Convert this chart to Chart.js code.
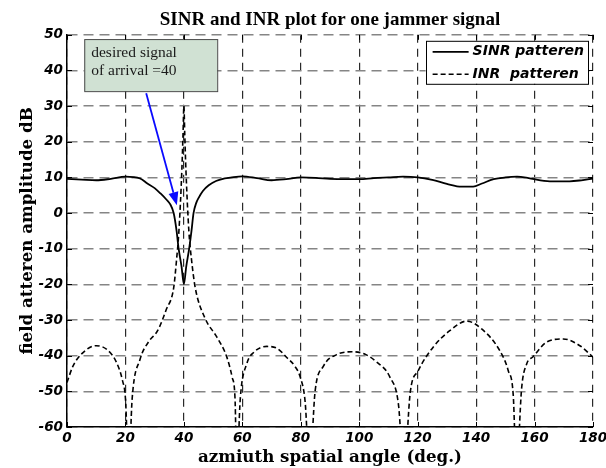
<!DOCTYPE html>
<html><head><meta charset="utf-8">
<script src="https://cdn.jsdelivr.net/npm/chart.js@4/dist/chart.umd.min.js"></script>
<style>html,body{margin:0;padding:0;background:#fff}#wrap{width:606px;height:468px}</style>
</head><body><div id="wrap"><canvas id="c" width="606" height="468"></canvas></div>
<script>
const chartTitle = 'SINR and INR plot for one jammer signal';
const xAxisTitle = 'azmiuth spatial angle (deg.)';
const yAxisTitle = 'field atteren amplitude dB';
const seriesNames = ['SINR patteren', 'INR  patteren'];
const xTicks = [0, 20, 40, 60, 80, 100, 120, 140, 160, 180];
const yTicks = [-60, -50, -40, -30, -20, -10, 0, 10, 20, 30, 40, 50];

const sinrAngles = [0, 5, 10, 15, 20, 25, 27.5, 30, 32, 34, 35.3, 36.5, 37.5, 38.2, 39.2, 40,
  40.8, 41.8, 42.6, 43.3, 44.2, 45, 46.5, 48.5, 51, 54, 57, 60, 65, 70, 75, 80, 85, 90, 95, 100,
  105, 110, 115, 120, 125, 130, 135, 139, 142, 146, 150, 154, 158, 162, 166, 172, 176, 180];
const sinrValues = [9.6, 9.4, 9.2, 9.6, 10.2, 9.7, 8.3, 7, 5.5, 3.8, 2.5, 0, -5, -10, -15, -20,
  -15, -10, -5, 0, 2.8, 4.2, 6.2, 7.8, 9, 9.7, 10.1, 10.3, 9.8, 9.2, 9.5, 10, 9.9, 9.6, 9.5, 9.5,
  9.8, 10, 10.2, 10, 9.3, 8.2, 7.4, 7.4, 8.3, 9.5, 10, 10.2, 9.8, 9.2, 8.9, 8.9, 9.2, 9.7];

const inrAngles = [0, 2, 5, 10, 14, 17, 19, 20, 21.1, 22.3, 25, 28, 31, 34, 36.5, 37.5, 38.3,
  39.3, 39.7, 40, 40.3, 40.7, 41.7, 42.6, 43.9, 47.3, 51.3, 54.7, 56.5, 57.5, 58.1, 59.3, 61.5,
  64, 68.4, 72, 75.2, 78, 79.8, 81.5, 83, 84.9, 87.7, 92.3, 98, 102, 106, 110.5, 113.4, 115.3,
  117.5, 120.2, 125.3, 131, 136.8, 141.9, 148.1, 151, 152.7, 153.8, 155.6, 157.3, 159.5, 164.1,
  169.8, 175.5, 180];
const inrValues = [-47.5, -43, -39.5, -37.2, -38.5, -42, -47, -52, -72, -52, -41, -36, -33, -27,
  -21, -13, -5, 12, 22, 30, 22, 12, -5, -13, -21, -29.6, -34.8, -40.4, -46, -52, -72, -52, -42.3,
  -39, -37.4, -38, -40.5, -43, -46, -53, -72, -50, -43, -39.7, -38.9, -39.6, -41.8, -46, -53.5,
  -72, -50, -44.2, -37.6, -33, -30.3, -32.5, -38.6, -44.2, -51, -72, -48.9, -42.3, -40.3, -36.2,
  -35.3, -37.2, -40.4];

const noteLines = ['desired signal', 'of arrival =40'];
const noteBox = { x1: 5.9, x2: 51.4, y1: 48.8, y2: 34.2 };
const noteArrow = { x1: 27.1, y1: 33.6, x2: 37.6, y2: 2.2 };

const toXY = (xs, ys) => xs.map((x, i) => ({ x: x, y: ys[i] }));

const innerTicksPlugin = {
  id: 'innerTicks',
  afterDraw(chart) {
    const ctx = chart.ctx, a = chart.chartArea, xs = chart.scales.x, ys = chart.scales.y;
    const len = 5;
    ctx.save();
    ctx.strokeStyle = '#000'; ctx.lineWidth = 1;
    ctx.beginPath();
    xs.ticks.forEach(t => {
      const px = Math.round(xs.getPixelForValue(t.value)) + 0.5;
      ctx.moveTo(px, a.bottom); ctx.lineTo(px, a.bottom - len);
      ctx.moveTo(px, a.top); ctx.lineTo(px, a.top + len);
    });
    ys.ticks.forEach(t => {
      const py = Math.round(ys.getPixelForValue(t.value)) + 0.5;
      ctx.moveTo(a.left, py); ctx.lineTo(a.left + len, py);
      ctx.moveTo(a.right, py); ctx.lineTo(a.right - len, py);
    });
    ctx.stroke();
    ctx.restore();
  }
};

const annotationPlugin = {
  id: 'noteAnnotation',
  afterDatasetsDraw(chart) {
    const ctx = chart.ctx, xs = chart.scales.x, ys = chart.scales.y;
    const L = xs.getPixelForValue(noteBox.x1), R = xs.getPixelForValue(noteBox.x2);
    const T = ys.getPixelForValue(noteBox.y1), B = ys.getPixelForValue(noteBox.y2);
    ctx.save();
    ctx.fillStyle = '#d0e1d3';
    ctx.fillRect(L, T, R - L, B - T);
    ctx.strokeStyle = '#4a4a4a';
    ctx.lineWidth = 1;
    ctx.strokeRect(L + 0.5, T + 0.5, R - L, B - T);
    ctx.fillStyle = '#1a1a1a';
    ctx.font = '15.5px "Liberation Serif"';
    ctx.textBaseline = 'middle';
    ctx.textAlign = 'left';
    noteLines.forEach((t, i) => ctx.fillText(t, L + 7, T + 14 + i * 17.5));
    const ax1 = xs.getPixelForValue(noteArrow.x1), ay1 = ys.getPixelForValue(noteArrow.y1);
    const ax2 = xs.getPixelForValue(noteArrow.x2), ay2 = ys.getPixelForValue(noteArrow.y2);
    const ang = Math.atan2(ay2 - ay1, ax2 - ax1);
    const hl = 13, hw = 5;
    const bx = ax2 - hl * Math.cos(ang), by = ay2 - hl * Math.sin(ang);
    ctx.strokeStyle = '#0a0aff';
    ctx.fillStyle = '#0a0aff';
    ctx.lineWidth = 1.8;
    ctx.beginPath(); ctx.moveTo(ax1, ay1); ctx.lineTo(bx, by); ctx.stroke();
    ctx.beginPath();
    ctx.moveTo(ax2, ay2);
    ctx.lineTo(bx + hw * Math.sin(ang), by - hw * Math.cos(ang));
    ctx.lineTo(bx - hw * Math.sin(ang), by + hw * Math.cos(ang));
    ctx.closePath(); ctx.fill();
    ctx.restore();
  }
};

const boxLegendPlugin = {
  id: 'boxLegend',
  afterDatasetsDraw(chart) {
    const ctx = chart.ctx, a = chart.chartArea;
    const sets = chart.data.datasets;
    ctx.save();
    ctx.font = 'italic bold 14px "DejaVu Sans"';
    const tw = Math.max(...sets.map(d => ctx.measureText(d.label).width));
    const sample = 36, gap = 4, padL = 7, padR = 4, rowH = 22.5;
    const w = padL + sample + gap + tw + padR, h = 43;
    const right = a.right - 5, top = a.top + 6, left = right - w;
    ctx.fillStyle = '#fff';
    ctx.fillRect(left, top, w, h);
    ctx.strokeStyle = '#000'; ctx.lineWidth = 1;
    ctx.strokeRect(Math.round(left) + 0.5, top + 0.5, Math.round(w), h);
    sets.forEach((d, i) => {
      const y = top + 11 + i * rowH;
      ctx.save();
      ctx.strokeStyle = d.borderColor; ctx.lineWidth = d.borderWidth;
      ctx.setLineDash(d.borderDash || []);
      ctx.beginPath(); ctx.moveTo(left + padL, y); ctx.lineTo(left + padL + sample, y); ctx.stroke();
      ctx.restore();
      ctx.fillStyle = '#000'; ctx.textBaseline = 'middle'; ctx.textAlign = 'left';
      ctx.fillText(d.label, left + padL + sample + gap, y);
    });
    ctx.restore();
  }
};

const tickFont = { family: 'DejaVu Sans', weight: 'bold', style: 'italic', size: 13.5 };
const axisTitleFont = { family: 'DejaVu Serif', weight: 'bold', size: 16.7, lineHeight: 1.2 };

new Chart(document.getElementById('c'), {
  type: 'line',
  data: {
    datasets: [
      { label: seriesNames[0], data: toXY(sinrAngles, sinrValues), borderColor: '#000', borderWidth: 1.8,
        pointRadius: 0, fill: false, cubicInterpolationMode: 'monotone' },
      { label: seriesNames[1], data: toXY(inrAngles, inrValues), borderColor: '#000', borderWidth: 1.6,
        borderDash: [5, 3], pointRadius: 0, fill: false, cubicInterpolationMode: 'monotone' }
    ]
  },
  options: {
    responsive: false, animation: false, devicePixelRatio: 1,
    layout: { padding: { left: 0, right: 13, top: 0, bottom: 0 } },
    plugins: {
      legend: { display: false },
      tooltip: { enabled: false },
      title: { display: true, text: chartTitle, fullSize: false, color: '#000',
        font: { family: 'Liberation Serif', weight: 'bold', size: 19, lineHeight: 1.2 },
        padding: { top: 9, bottom: 3 } }
    },
    scales: {
      x: {
        type: 'linear', min: xTicks[0], max: xTicks[xTicks.length - 1],
        afterBuildTicks: s => { s.ticks = xTicks.map(v => ({ value: v })); },
        afterFit: s => { s.height = 41; s.paddingLeft = 0; s.paddingRight = 0; },
        ticks: { color: '#000', font: tickFont, padding: 3, maxRotation: 0, autoSkip: false },
        grid: { color: '#2a2a2a', lineWidth: 1.2, drawTicks: false },
        border: { display: true, color: '#000', width: 1.5, dash: [8, 6] },
        title: { display: true, text: xAxisTitle, color: '#000', font: axisTitleFont, padding: { top: 0, bottom: 0 } }
      },
      y: {
        type: 'linear', min: yTicks[0], max: yTicks[yTicks.length - 1],
        afterBuildTicks: s => { s.ticks = yTicks.map(v => ({ value: v })); },
        afterFit: s => { s.width = 67; s.paddingTop = 0; s.paddingBottom = 0; },
        ticks: { color: '#000', font: tickFont, padding: 4, autoSkip: false },
        grid: { color: '#858585', lineWidth: 1.6, drawTicks: false },
        border: { display: true, color: '#000', width: 1.5, dash: [10, 6] },
        title: { display: true, text: yAxisTitle, color: '#000', font: axisTitleFont, padding: { top: 17.5, bottom: 0 } }
      }
    }
  },
  plugins: [annotationPlugin, boxLegendPlugin, innerTicksPlugin]
});
</script></body></html>
